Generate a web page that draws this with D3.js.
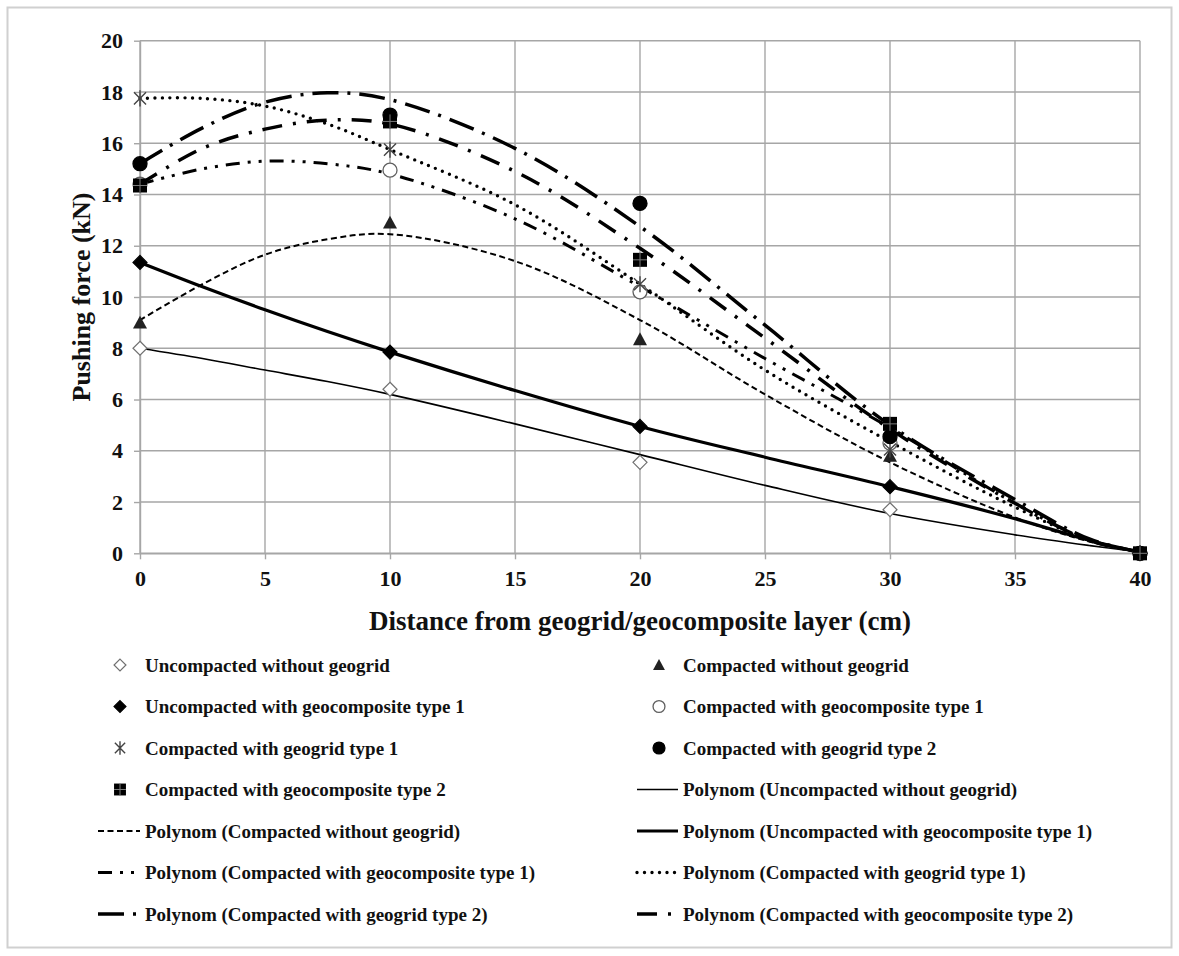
<!DOCTYPE html>
<html>
<head>
<meta charset="utf-8">
<script src="https://cdn.jsdelivr.net/npm/d3@7"></script>
<style>
	body { margin: 0; background: #fff; }
	text { font-family: "Liberation Serif", "Times New Roman", serif; font-weight: bold; fill: #111; }
</style>
</head>
<body>
<div id="chart"></div>
<script>

// measured points (cm from layer -> kN)
const distances = [0, 10, 20, 30, 40];
const uncompactedNoGrid = [8.0, 6.4, 3.55, 1.7, 0];
const compactedNoGrid = [9.0, 12.9, 8.35, 3.8, 0];
const uncompactedGeocomp1 = [11.35, 7.85, 4.95, 2.6, 0];
const compactedGeocomp1 = [14.4, 14.95, 10.2, 4.3, 0];
const compactedGeogrid1 = [17.75, 15.75, 10.5, 4.05, 0];
const compactedGeogrid2 = [15.2, 17.1, 13.65, 4.55, 0];
const compactedGeocomp2 = [14.35, 16.85, 11.45, 5.05, 0];

// polynomial trendlines
const trendDistances = [0, 2.5, 5, 7.5, 10, 15, 20, 25, 30, 35, 38, 40];
const trendUncompactedNoGrid = [8.0, 7.6, 7.15, 6.7, 6.2, 5.05, 3.85, 2.65, 1.55, 0.72, 0.3, 0.05];
const trendCompactedNoGrid = [9.1, 10.5, 11.65, 12.25, 12.45, 11.4, 9.1, 6.2, 3.55, 1.4, 0.45, 0.05];
const trendUncompactedGeocomp1 = [11.35, 10.4, 9.5, 8.65, 7.85, 6.35, 4.95, 3.75, 2.6, 1.35, 0.5, 0.05];
const trendCompactedGeocomp1 = [14.4, 15.0, 15.3, 15.2, 14.8, 13.05, 10.4, 7.6, 4.9, 1.95, 0.5, 0.05];
const trendCompactedGeogrid1 = [17.75, 17.75, 17.45, 16.75, 15.75, 13.6, 10.5, 7.15, 4.35, 1.8, 0.5, 0.05];
const trendCompactedGeogrid2 = [15.2, 16.6, 17.6, 17.97, 17.7, 15.8, 12.75, 8.9, 5.0, 2.1, 0.55, 0.05];
const trendCompactedGeocomp2 = [14.4, 15.8, 16.55, 16.9, 16.75, 14.9, 11.9, 8.4, 4.85, 1.95, 0.5, 0.05];

const xTicks = [0, 5, 10, 15, 20, 25, 30, 35, 40];
const yTicks = [0, 2, 4, 6, 8, 10, 12, 14, 16, 18, 20];

const xTitle = "Distance from geogrid/geocomposite layer (cm)";
const yTitle = "Pushing force (kN)";

const legendLabels = [
	"Uncompacted without geogrid",
	"Compacted without geogrid",
	"Uncompacted with geocomposite type 1",
	"Compacted with geocomposite type 1",
	"Compacted with geogrid type 1",
	"Compacted with geogrid type 2",
	"Compacted with geocomposite type 2",
	"Polynom (Uncompacted without geogrid)",
	"Polynom (Compacted without geogrid)",
	"Polynom (Uncompacted with geocomposite type 1)",
	"Polynom (Compacted with geocomposite type 1)",
	"Polynom (Compacted with geogrid type 1)",
	"Polynom (Compacted with geogrid type 2)",
	"Polynom (Compacted with geocomposite type 2)"
];


class PushingForceChart {

	constructor(parentElement) {
		this.parentElement = parentElement;

		// marker + trendline look per series
		this.series = [
			{values: uncompactedNoGrid, trend: trendUncompactedNoGrid, marker: "openDiamond", width: 1.6, dash: null},
			{values: compactedNoGrid, trend: trendCompactedNoGrid, marker: "triangle", width: 2, dash: "6,3.5"},
			{values: uncompactedGeocomp1, trend: trendUncompactedGeocomp1, marker: "diamond", width: 3.2, dash: null},
			{values: compactedGeocomp1, trend: trendCompactedGeocomp1, marker: "openCircle", width: 3, dash: "14,8,3,8,3,8"},
			{values: compactedGeogrid1, trend: trendCompactedGeogrid1, marker: "asterisk", width: 3.4, dash: "0,7.5", cap: "round"},
			{values: compactedGeogrid2, trend: trendCompactedGeogrid2, marker: "circle", width: 3.5, dash: "26,9,3,9"},
			{values: compactedGeocomp2, trend: trendCompactedGeocomp2, marker: "square", width: 3.5, dash: "20,11,3,11"}
		];

		this.initVis();
	}

	initVis() {
		let vis = this;

		vis.margin = {top: 40.7, left: 140};
		vis.width = 1000;
		vis.height = 512.6;

		vis.svg = d3.select("#" + vis.parentElement).append("svg")
			.attr("width", 1179)
			.attr("height", 956);

		vis.svg.append("rect")
			.attr("width", 1179)
			.attr("height", 956)
			.attr("fill", "#fff");

		// outer frame
		vis.svg.append("rect")
			.attr("x", 7.5)
			.attr("y", 7.5)
			.attr("width", 1164)
			.attr("height", 940)
			.attr("fill", "none")
			.attr("stroke", "#d0d0d0")
			.attr("stroke-width", 2);

		vis.g = vis.svg.append("g")
			.attr("transform", `translate(${vis.margin.left}, ${vis.margin.top})`);

		vis.x = d3.scaleLinear().domain([0, 40]).range([0, vis.width]);
		vis.y = d3.scaleLinear().domain([0, 20]).range([vis.height, 0]);

		// grid
		vis.g.append("g").selectAll("line.vgrid")
			.data(xTicks)
			.enter().append("line")
			.attr("x1", d => vis.x(d))
			.attr("x2", d => vis.x(d))
			.attr("y1", 0)
			.attr("y2", vis.height)
			.attr("stroke", "#a6a6a6")
			.attr("stroke-width", 1.4);

		vis.g.append("g").selectAll("line.hgrid")
			.data(yTicks)
			.enter().append("line")
			.attr("x1", 0)
			.attr("x2", vis.width)
			.attr("y1", d => vis.y(d))
			.attr("y2", d => vis.y(d))
			.attr("stroke", "#a6a6a6")
			.attr("stroke-width", 1.4);

		// axes
		let xAxis = vis.g.append("g")
			.attr("transform", `translate(0, ${vis.height})`)
			.call(d3.axisBottom(vis.x).tickValues(xTicks).tickSize(6).tickSizeOuter(0).tickPadding(11));

		let yAxis = vis.g.append("g")
			.call(d3.axisLeft(vis.y).tickValues(yTicks).tickSize(6).tickSizeOuter(0).tickPadding(11));

		[xAxis, yAxis].forEach(a => {
			a.select(".domain").attr("stroke", "#a6a6a6").attr("stroke-width", 1.4);
			a.selectAll(".tick line").attr("stroke", "#a6a6a6").attr("stroke-width", 1.4);
			a.selectAll(".tick text")
				.attr("font-family", "Liberation Serif, serif")
				.attr("font-weight", "bold")
				.attr("font-size", 22)
				.attr("fill", "#111");
		});

		// axis titles
		vis.g.append("text")
			.attr("x", vis.width / 2)
			.attr("y", vis.height + 77)
			.attr("text-anchor", "middle")
			.attr("font-size", 27)
			.text(xTitle);

		vis.g.append("text")
			.attr("transform", `translate(${-50}, ${vis.height / 2}) rotate(-90)`)
			.attr("text-anchor", "middle")
			.attr("font-size", 26)
			.text(yTitle);

		vis.updateVis();
	}

	updateVis() {
		let vis = this;

		let line = d3.line()
			.x(d => vis.x(d[0]))
			.y(d => vis.y(d[1]))
			.curve(d3.curveCatmullRom.alpha(0.5));

		// trendlines first, markers on top
		vis.g.append("g").selectAll("path.trend")
			.data(vis.series)
			.enter().append("path")
			.attr("class", "trend")
			.attr("d", s => line(trendDistances.map((xv, i) => [xv, s.trend[i]])))
			.attr("fill", "none")
			.attr("stroke", "#000")
			.attr("stroke-width", s => s.width)
			.attr("stroke-dasharray", s => s.dash)
			.attr("stroke-linecap", s => s.cap || "butt");

		vis.series.forEach(s => {
			vis.g.append("g").selectAll("g.pt")
				.data(distances.map((xv, i) => [xv, s.values[i]]))
				.enter().append("g")
				.attr("transform", d => `translate(${vis.x(d[0])}, ${vis.y(d[1])})`)
				.each(function() { vis.drawMarker(d3.select(this), s.marker); });
		});

		// legend, two columns
		let rowY = d3.range(7).map(i => 665 + i * 41.5);
		let cols = [{marker: 120, line: [98, 140], text: 145}, {marker: 659, line: [637, 678], text: 683}];

		let legend = vis.svg.append("g").selectAll("g.legend")
			.data(legendLabels)
			.enter().append("g")
			.attr("class", "legend");

		legend.each(function(label, i) {
			let g = d3.select(this);
			let c = cols[i % 2];
			let yy = rowY[Math.floor(i / 2)];
			if (i < 7) {
				let m = g.append("g").attr("transform", `translate(${c.marker}, ${yy})`);
				vis.drawMarker(m, vis.series[i].marker, 0.85);
			} else {
				let s = vis.series[i - 7];
				g.append("line")
					.attr("x1", c.line[0])
					.attr("x2", c.line[1])
					.attr("y1", yy)
					.attr("y2", yy)
					.attr("stroke", "#000")
					.attr("stroke-width", s.width)
					.attr("stroke-dasharray", s.dash)
					.attr("stroke-linecap", s.cap || "butt");
			}
			g.append("text")
				.attr("x", c.text)
				.attr("y", yy)
				.attr("dy", "0.35em")
				.attr("font-size", 19)
				.text(label);
		});
	}

	drawMarker(sel, type, k) {
		let r = 7 * (k || 1);
		if (type === "openDiamond" || type === "diamond") {
			sel.append("path")
				.attr("d", `M0,${-r}L${r},0L0,${r}L${-r},0Z`)
				.attr("fill", type === "diamond" ? "#000" : "#fff")
				.attr("stroke", type === "diamond" ? "#000" : "#707070")
				.attr("stroke-width", 1.2);
		} else if (type === "triangle") {
			sel.append("path")
				.attr("d", `M0,${-r}L${r},${r * 0.85}L${-r},${r * 0.85}Z`)
				.attr("fill", "#222");
		} else if (type === "openCircle" || type === "circle") {
			sel.append("circle")
				.attr("r", r)
				.attr("fill", type === "circle" ? "#000" : "#fff")
				.attr("stroke", type === "circle" ? "#000" : "#606060")
				.attr("stroke-width", 1.3);
		} else if (type === "asterisk") {
			let rr = r * 1.15;
			let a = rr * 0.75;
			sel.append("path")
				.attr("d", `M${-a},${-a}L${a},${a}M${-a},${a}L${a},${-a}M0,${-rr}L0,${rr}`)
				.attr("stroke", "#444")
				.attr("stroke-width", 1.4)
				.attr("fill", "none");
		} else if (type === "square") {
			sel.append("rect")
				.attr("x", -r).attr("y", -r)
				.attr("width", 2 * r).attr("height", 2 * r)
				.attr("fill", "#000");
			sel.append("path")
				.attr("d", `M${-r},0L${r},0M0,${-r}L0,${r}`)
				.attr("stroke", "#7a7a7a")
				.attr("stroke-width", 1);
		}
	}
}

new PushingForceChart("chart");

</script>
</body>
</html>
